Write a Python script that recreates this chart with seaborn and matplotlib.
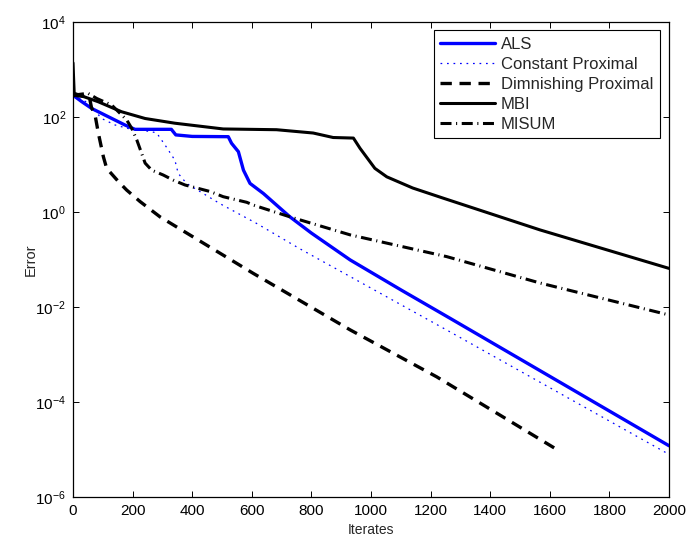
import numpy as np
import pandas as pd
import matplotlib
matplotlib.use("Agg")
import matplotlib.pyplot as plt
import seaborn as sns

# Convergence histories (iteration, error) for each method
als_iter = [0, 30, 63, 107, 174, 208, 330, 345, 400, 521, 532, 555, 572, 594, 639, 695, 728, 800, 930, 1100, 1265, 2000]
als_err = [288, 209, 151, 110, 68, 55, 55, 42, 39, 38.5, 28, 18.6, 7.6, 4.0, 2.45, 1.2, 0.79, 0.36, 0.098, 0.023, 5.8e-3, 1.2e-5]

cprox_iter = [0, 50, 96, 141, 186, 264, 281, 314, 342, 353, 381, 437, 493, 616, 760, 930, 1265, 2000]
cprox_err = [288, 200, 93, 68, 57, 49, 46, 23, 12.3, 6.5, 4.0, 2.45, 1.5, 0.575, 0.17, 0.0437, 3.0e-3, 7.9e-6]

dprox_iter = [0, 55, 62, 74, 85, 102, 113, 152, 180, 225, 292, 605, 930, 1220, 1626]
dprox_err = [288, 263, 158, 110, 46, 14.5, 8.3, 4.4, 2.9, 1.66, 0.79, 0.051, 3.3e-3, 3.4e-4, 9.8e-6]

mbi_iter = [0, 4, 85, 163, 242, 342, 504, 683, 806, 873, 941, 963, 1013, 1053, 1140, 1243, 1567, 2000]
mbi_err = [1380, 316, 209, 129, 93, 74, 56, 54, 46, 37, 36, 22, 8.3, 5.5, 3.2, 1.95, 0.42, 0.065]

misum_iter = [0, 50, 80, 130, 180, 197, 214, 230, 242, 264, 303, 336, 376, 415, 460, 504, 583, 605, 728, 930, 1254, 1567, 2000]
misum_err = [288, 316, 245, 178, 87, 58, 33, 17.4, 10.7, 7.6, 6.0, 4.7, 3.7, 3.2, 2.7, 2.1, 1.6, 1.4, 0.79, 0.33, 0.115, 0.032, 6.8e-3]

series_names = ["ALS", "Constant Proximal", "Dimnishing Proximal", "MBI", "MISUM"]
x_ticks = list(range(0, 2001, 200))
y_ticks = [1e-6, 1e-4, 1e-2, 1e0, 1e2, 1e4]

sns.set_style("ticks")
plt.rcParams["font.family"] = ["Liberation Sans", "DejaVu Sans"]
plt.rcParams["mathtext.fontset"] = "custom"
plt.rcParams["mathtext.rm"] = "Liberation Sans"
plt.rcParams["mathtext.it"] = "Liberation Sans:italic"
plt.rcParams["mathtext.bf"] = "Liberation Sans:bold"
plt.rcParams["mathtext.default"] = "regular"

frames = [
    pd.DataFrame({"Iterates": als_iter, "Error": als_err, "method": series_names[0]}),
    pd.DataFrame({"Iterates": cprox_iter, "Error": cprox_err, "method": series_names[1]}),
    pd.DataFrame({"Iterates": dprox_iter, "Error": dprox_err, "method": series_names[2]}),
    pd.DataFrame({"Iterates": mbi_iter, "Error": mbi_err, "method": series_names[3]}),
    pd.DataFrame({"Iterates": misum_iter, "Error": misum_err, "method": series_names[4]}),
]

styles = {
    "ALS": dict(color="#0000ff", lw=2.4, ls="-"),
    "Constant Proximal": dict(color="#0000ff", lw=0.9, ls=(0, (1.4, 3.8))),
    "Dimnishing Proximal": dict(color="black", lw=2.4, ls=(0, (3.4, 2.3))),
    "MBI": dict(color="black", lw=2.2, ls="-"),
    "MISUM": dict(color="black", lw=2.2, ls=(0, (3.6, 1.5, 0.35, 1.5))),
}

fig = plt.figure(figsize=(6.88, 5.39), dpi=100)
ax = fig.add_axes([73 / 688, 42 / 539, 596 / 688, 475 / 539])

for df in frames:
    name = df["method"].iloc[0]
    st = styles[name]
    sns.lineplot(data=df, x="Iterates", y="Error", ax=ax, color=st["color"],
                 linewidth=st["lw"], linestyle=st["ls"], label=name,
                 estimator=None, sort=False)

ax.set_yscale("log")
ax.set_xlim(0, 2000)
ax.set_ylim(1e-6, 1e4)
ax.set_xticks(x_ticks)
ax.set_xticklabels([str(t) for t in x_ticks])
ax.set_yticks(y_ticks)
ax.set_yticklabels([r"$10^{%d}$" % int(round(np.log10(t))) for t in y_ticks])
ax.minorticks_off()

ax.tick_params(axis="both", which="major", direction="in", length=4, width=0.7,
               top=True, right=True, labelsize=11, colors="black", pad=5)
for sp in ax.spines.values():
    sp.set_visible(True)
    sp.set_linewidth(0.9)
    sp.set_color("black")

ax.set_xlabel("Iterates", fontsize=10, labelpad=4)
ax.set_ylabel("Error", fontsize=10.5, labelpad=-2)

leg = ax.legend(loc="upper right", bbox_to_anchor=(0.985, 0.983), fontsize=12,
                frameon=True, fancybox=False, framealpha=1, edgecolor="black",
                borderaxespad=0, handlelength=3.3, handletextpad=0.35,
                labelspacing=0.3, borderpad=0.4)
leg.get_frame().set_linewidth(0.8)

fig.savefig("out.png", dpi=100)
